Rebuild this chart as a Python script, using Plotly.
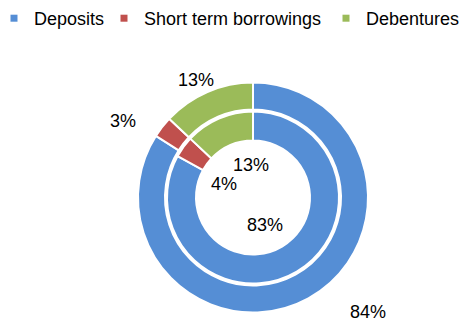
import plotly.graph_objects as go

categories = ["Deposits", "Short term borrowings", "Debentures"]
outer_values = [84, 3, 13]
inner_values = [83, 4, 13]
colors = ["#558ED5", "#C0504D", "#9BBB59"]

# label anchor positions in pixels (label placement only)
outer_label_pos = [(368, 312), (123, 121), (196, 80)]
inner_label_pos = [(265, 225), (224, 184), (251, 165)]
# legend entry start positions in pixels
legend_starts = [-6, 104, 326]

W, H = 472, 321
CX, CY = 253, 197.5
FONT = "Liberation Sans, Arial, sans-serif"


def dom(r):
    return dict(x=[(CX - r) / W, (CX + r) / W], y=[(H - CY - r) / H, (H - CY + r) / H])


fig = go.Figure()
fig.add_trace(go.Pie(
    labels=categories, values=outer_values, sort=False, direction="clockwise",
    rotation=0, hole=88 / 115, domain=dom(115), textinfo="none",
    marker=dict(colors=colors, line=dict(color="white", width=2)),
    showlegend=False,
))
fig.add_trace(go.Pie(
    labels=categories, values=inner_values, sort=False, direction="clockwise",
    rotation=0, hole=57 / 86, domain=dom(86), textinfo="none",
    marker=dict(colors=colors, line=dict(color="white", width=2)),
    showlegend=False,
))

legend_keys = ["legend", "legend2", "legend3"]
for name, c, lk in zip(categories, colors, legend_keys):
    fig.add_trace(go.Scatter(
        x=[None], y=[None], mode="markers", name=name, legend=lk,
        marker=dict(symbol="square", size=7, color=c),
    ))

annotations = []
for vals, positions in ((outer_values, outer_label_pos), (inner_values, inner_label_pos)):
    for v, (px, py) in zip(vals, positions):
        annotations.append(dict(
            x=px / W, y=1 - py / H, xref="paper", yref="paper",
            text=f"{v}%", showarrow=False, xanchor="center", yanchor="middle",
            font=dict(size=18, color="#000000", family=FONT),
        ))

legend_layout = {}
for lk, sx in zip(legend_keys, legend_starts):
    legend_layout[lk] = dict(
        orientation="h", x=sx / W, y=1.0, xanchor="left", yanchor="top",
        font=dict(size=18, family=FONT, color="#000000"),
        bgcolor="rgba(0,0,0,0)", itemwidth=30,
    )

fig.update_layout(
    width=W, height=H,
    margin=dict(l=0, r=0, t=0, b=0, autoexpand=False),
    paper_bgcolor="white", plot_bgcolor="white",
    xaxis=dict(visible=False), yaxis=dict(visible=False),
    font=dict(family=FONT, size=18, color="#000000"),
    annotations=annotations,
    **legend_layout,
)

fig.write_html("out.html")
